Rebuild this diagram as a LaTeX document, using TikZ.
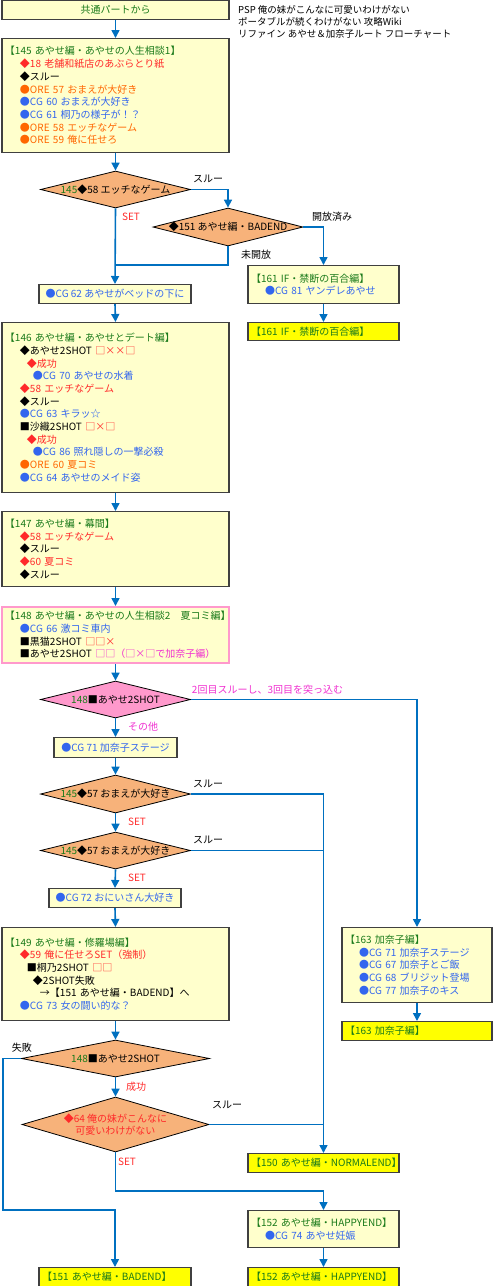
\documentclass[tikz,border=0pt]{standalone}
\usepackage{fontspec}
\setmainfont{Noto Sans CJK JP}
\usepackage{xcolor}
\usepackage{tikz}
\usetikzlibrary{positioning,shapes.geometric,arrows.meta}

\definecolor{paleyellow}{HTML}{FFFFCC}
\definecolor{endyellow}{HTML}{FFFF00}
\definecolor{boxline}{HTML}{404040}
\definecolor{flowblue}{HTML}{0070C0}
\definecolor{choiceorange}{HTML}{F7B27A}
\definecolor{choicepink}{HTML}{FF99CC}
\definecolor{hdgreen}{HTML}{1A7A1A}
\definecolor{setred}{HTML}{FF2A2A}
\definecolor{cgblue}{HTML}{3366EE}
\definecolor{oreorange}{HTML}{FF6600}
\definecolor{notemag}{HTML}{F030D0}

\newcommand{\hdtxt}[1]{\textcolor{hdgreen}{#1}}
\newcommand{\redtxt}[1]{\textcolor{setred}{#1}}
\newcommand{\bluetxt}[1]{\textcolor{cgblue}{#1}}
\newcommand{\oratxt}[1]{\textcolor{oreorange}{#1}}
\newcommand{\magtxt}[1]{\textcolor{notemag}{#1}}
\newcommand{\ind}[1]{\hspace*{#1pt}}

\begin{document}
\begin{tikzpicture}[>={Triangle[width=8pt,length=8pt]}, x=1pt, y=-1pt,
  font=\fontsize{10}{12.7}\selectfont,
  infobox/.style={draw=boxline, fill=paleyellow, line width=1.2pt, anchor=north, align=left, inner xsep=3pt, inner ysep=0pt},
  endbox/.style={infobox, fill=endyellow},
  cgbox/.style={draw=boxline, fill=paleyellow, line width=1.2pt, anchor=north, align=center, inner sep=0pt},
  choicebase/.style={diamond, draw=black, fill=choiceorange, line width=0.8pt, inner sep=0pt, align=center},
  choice/.style={choicebase, aspect=4, text height=7.6pt, text depth=0pt},
  flow/.style={->, draw=flowblue, line width=1.6pt},
  flowline/.style={draw=flowblue, line width=1.6pt},
  lbl/.style={inner sep=0pt}]
\useasboundingbox (0,0) rectangle (494,1286);

\node[cgbox, minimum width=227pt, minimum height=19pt] (start) at (115.5,0) {\hdtxt{共通パートから}};
\node[anchor=north west, align=left, inner sep=0pt, font=\fontsize{9.5}{12.3}\selectfont] (title) at (238,5)
  {PSP 俺の妹がこんなに可愛いわけがない\\ポータブルが続くわけがない 攻略Wiki\\リファイン あやせ＆加奈子ルート フローチャート};

\node[infobox, text width=221pt, minimum height=114pt] (ch145) at (115.5,38) {\hdtxt{【145~あやせ編・あやせの人生相談1】}\\
\ind{15}\redtxt{◆18 老舗和紙店のあぶらとり紙}\\
\ind{15}◆スルー\\
\ind{15}\oratxt{●ORE 57 おまえが大好き}\\
\ind{15}\bluetxt{●CG 60 おまえが大好き}\\
\ind{15}\bluetxt{●CG 61 桐乃の様子が！？}\\
\ind{15}\oratxt{●ORE 58 エッチなゲーム}\\
\ind{15}\oratxt{●ORE 59 俺に任せろ}};

\node[choice, minimum width=150pt, minimum height=37pt] (d58) at (115.5,189.5) {\hdtxt{145}◆58 エッチなゲーム};
\node[choice, minimum width=150pt, minimum height=38pt] (d151) at (228,227) {◆151 あやせ編・BADEND};
\node[cgbox, minimum width=152pt, minimum height=19pt] (cg62) at (115,284) {\bluetxt{●CG 62 あやせがベッドの下に}};
\node[infobox, text width=145pt, minimum height=38pt] (ch161) at (323.5,265) {\hdtxt{【161~IF・禁断の百合編】}\\
\ind{14}\bluetxt{●CG 81 ヤンデレあやせ}};
\node[endbox, text width=145pt, minimum height=18pt] (end161) at (323.5,322) {\hdtxt{【161~IF・禁断の百合編】}};

\node[infobox, text width=221pt, minimum height=170pt] (ch146) at (115.5,322) {\hdtxt{【146~あやせ編・あやせとデート編】}\\
\ind{15}◆あやせ2SHOT \redtxt{□××□}\\
\ind{22}\redtxt{◆成功}\\
\ind{28}\bluetxt{●CG 70 あやせの水着}\\
\ind{15}\redtxt{◆58 エッチなゲーム}\\
\ind{15}◆スルー\\
\ind{15}\bluetxt{●CG 63 キラッ☆}\\
\ind{15}■沙織2SHOT \redtxt{□×□}\\
\ind{22}\redtxt{◆成功}\\
\ind{28}\bluetxt{●CG 86 照れ隠しの一撃必殺}\\
\ind{15}\oratxt{●ORE 60 夏コミ}\\
\ind{15}\bluetxt{●CG 64 あやせのメイド姿}};

\node[infobox, text width=221pt, minimum height=75pt] (ch147) at (115.5,511) {\hdtxt{【147~あやせ編・幕間】}\\
\ind{15}\redtxt{◆58 エッチなゲーム}\\
\ind{15}◆スルー\\
\ind{15}\redtxt{◆60 夏コミ}\\
\ind{15}◆スルー};

\node[infobox, draw=choicepink, line width=2.2pt, text width=221pt, minimum height=56pt] (ch148) at (115.5,606) {\hdtxt{【148~あやせ編・あやせの人生相談2　夏コミ編】}\\
\ind{15}\bluetxt{●CG 66 激コミ車内}\\
\ind{15}■黒猫2SHOT \redtxt{□□×}\\
\ind{15}■あやせ2SHOT \magtxt{□□（□×□で加奈子編）}};

\node[choice, fill=choicepink, minimum width=150pt, minimum height=37pt] (d148) at (115.5,699.5) {\hdtxt{148}■あやせ2SHOT};
\node[cgbox, minimum width=123pt, minimum height=20pt] (cg71) at (115.5,737) {\bluetxt{●CG 71 加奈子ステージ}};
\node[choice, minimum width=150pt, minimum height=38pt] (d57a) at (115.5,794) {\hdtxt{145}◆57 おまえが大好き};
\node[choice, minimum width=150pt, minimum height=37pt] (d57b) at (115.5,850.5) {\hdtxt{145}◆57 おまえが大好き};
\node[cgbox, minimum width=132pt, minimum height=19pt] (cg72) at (115,888) {\bluetxt{●CG 72 おにいさん大好き}};

\node[infobox, text width=221pt, minimum height=93pt] (ch149) at (115.5,927) {\hdtxt{【149~あやせ編・修羅場編】}\\
\ind{15}\redtxt{◆59 俺に任せろSET（強制）}\\
\ind{22}■桐乃2SHOT \redtxt{□□}\\
\ind{28}◆2SHOT失敗\\
\ind{35}→【151 あやせ編・BADEND】へ\\
\ind{15}\bluetxt{●CG 73 女の闘い的な？}};

\node[infobox, text width=144pt, minimum height=75pt] (ch163) at (417,927) {\hdtxt{【163~加奈子編】}\\
\ind{14}\bluetxt{●CG 71 加奈子ステージ}\\
\ind{14}\bluetxt{●CG 67 加奈子とご飯}\\
\ind{14}\bluetxt{●CG 68 ブリジット登場}\\
\ind{14}\bluetxt{●CG 77 加奈子のキス}};
\node[endbox, text width=144pt, minimum height=19pt] (end163) at (417,1021) {\hdtxt{【163~加奈子編】}};

\node[choice, minimum width=188pt, minimum height=37pt] (d148b) at (115.5,1058.5) {\hdtxt{148}■あやせ2SHOT};
\node[choicebase, aspect=3.4, minimum width=187pt, minimum height=55pt] (d64) at (115.5,1124.5) {\redtxt{◆64 俺の妹がこんなに}\\\redtxt{可愛いわけがない}};

\node[endbox, text width=145pt, minimum height=19pt] (end150) at (323.5,1153) {\hdtxt{【150~あやせ編・NORMALEND】}};
\node[infobox, text width=145pt, minimum height=37pt] (ch152) at (323.5,1210) {\hdtxt{【152~あやせ編・HAPPYEND】}\\
\ind{14}\bluetxt{●CG 74 あやせ妊娠}};
\node[endbox, text width=146pt, minimum height=19pt] (end151) at (115,1267) {\hdtxt{【151~あやせ編・BADEND】}};
\node[endbox, text width=145pt, minimum height=19pt] (end152) at (323.5,1267) {\hdtxt{【152~あやせ編・HAPPYEND】}};

\node[lbl] (lslu58) at (208,179) {スルー};
\node[lbl] (lset58) at (131,217) {\redtxt{SET}};
\node[lbl] (lopen) at (332,217) {開放済み};
\node[lbl] (lclosed) at (256,255) {未開放};
\node[lbl] (l2shot) at (267.5,690) {\magtxt{2回目スルーし、3回目を突っ込む}};
\node[lbl] (lother) at (143,727) {\magtxt{その他}};
\node[lbl] (lslu57a) at (208,784) {スルー};
\node[lbl] (lset57a) at (137,822) {\redtxt{SET}};
\node[lbl] (lslu57b) at (208,840) {スルー};
\node[lbl] (lset57b) at (137,878) {\redtxt{SET}};
\node[lbl] (lfail) at (22,1048) {失敗};
\node[lbl] (lok) at (136,1087) {\redtxt{成功}};
\node[lbl] (lslu64) at (227,1105) {スルー};
\node[lbl] (lset64) at (127,1162) {\redtxt{SET}};

\coordinate (cg62join) at (115.5,265);
\coordinate (failturn) at (3,1210);
\coordinate (setturn) at (115.5,1191);

\draw[flow] (start.south) -- (ch145.north);
\draw[flow] (ch145.south) -- (d58.north);
\draw[flow] (d58.east) -| (d151.north);
\draw[flow] (d58.south) -- (cg62.north);
\draw[flowline] (d151.south) |- (cg62join);
\draw[flow] (d151.east) -| (ch161.north);
\draw[flow] (ch161.south) -- (end161.north);
\draw[flow] (cg62.south) -- (ch146.north);
\draw[flow] (ch146.south) -- (ch147.north);
\draw[flow] (ch147.south) -- (ch148.north);
\draw[flow] (ch148.south) -- (d148.north);
\draw[flow] (d148.east) -| (ch163.north);
\draw[flow] (ch163.south) -- (end163.north);
\draw[flow] (d148.south) -- (cg71.north);
\draw[flow] (cg71.south) -- (d57a.north);
\draw[flow] (d57a.east) -| (end150.north);
\draw[flow] (d57a.south) -- (d57b.north);
\draw[flowline] (d57b.east) -- (d57b.east -| end150.north);
\draw[flow] (d57b.south) -- (cg72.north);
\draw[flow] (cg72.south) -- (ch149.north);
\draw[flow] (ch149.south) -- (d148b.north);
\draw[flow] (d148b.west) -| (failturn) -| (end151.north);
\draw[flow] (d148b.south) -- (d64.north);
\draw[flowline] (d64.east) -- (d64.east -| end150.north);
\draw[flow] (d64.south) -- (setturn) -| (ch152.north);
\draw[flow] (ch152.south) -- (end152.north);
\end{tikzpicture}
\end{document}
